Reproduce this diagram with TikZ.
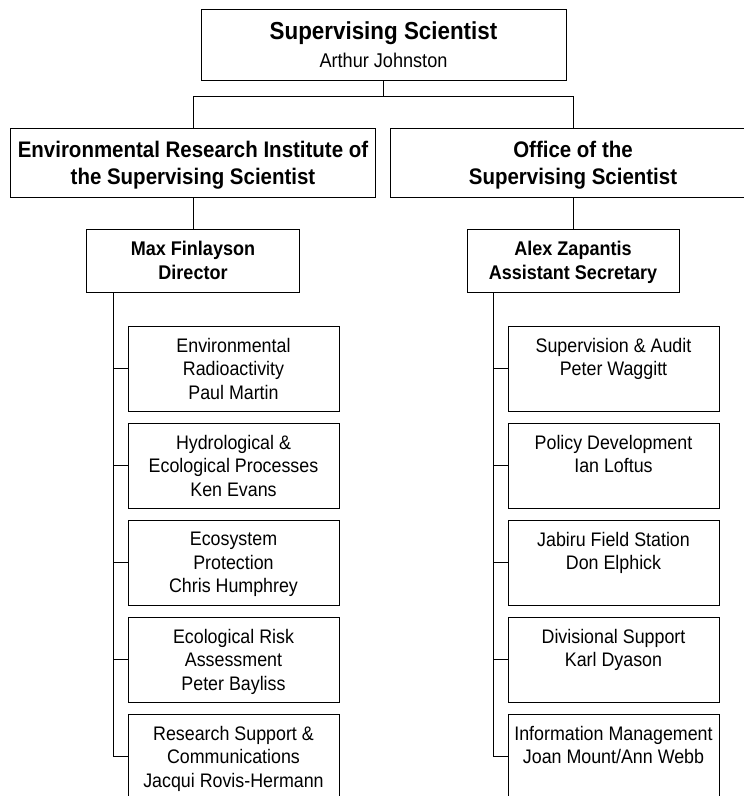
\documentclass[tikz,border=0pt]{standalone}
\usepackage{fontspec}
\setmainfont{Liberation Sans}[FakeStretch=0.91]
\newcommand{\lastln}[1]{\smash{#1}}
\tikzset{
  box/.style={draw, line width=1bp, align=center, inner sep=0pt, outer sep=0pt},
  conn/.style={line width=1bp},
  topbox/.style={box, minimum width=365bp, minimum height=70bp, font=\fontsize{24.6bp}{28bp}\selectfont\bfseries},
  divbox/.style={box, minimum height=69bp, font=\fontsize{22.5bp}{27bp}\selectfont\bfseries},
  headbox/.style={box, minimum width=212bp, minimum height=63bp, font=\fontsize{19.8bp}{24bp}\selectfont\bfseries},
  unitbox/.style={box, minimum width=211bp, minimum height=85bp, font=\fontsize{19.6bp}{23.5bp}\selectfont},
}
\begin{document}
\begin{tikzpicture}[x=1bp,y=-1bp]
\clip (0,0) rectangle (744,796);
% top
\node[topbox] (top) at (383.5,45) {Supervising Scientist\\\lastln{\fontsize{19.9bp}{28bp}\selectfont\mdseries Arthur Johnston}};
% divisions
\node[divbox, minimum width=364bp] (eriss) at (193,162.5) {Environmental Research Institute of\\\lastln{the Supervising Scientist}};
\node[divbox, minimum width=366bp] (oss) at (573,162.5) {Office of the\\\lastln{Supervising Scientist}};
% heads
\node[headbox] (dirL) at (193,260.5) {Max Finlayson\\\lastln{Director}};
\node[headbox] (dirR) at (573,260.5) {Alex Zapantis\\\lastln{Assistant Secretary}};
% left units
\node[unitbox] (l1) at (233.5,368.5) {Environmental\\Radioactivity\\\lastln{Paul Martin}};
\node[unitbox] (l2) at (233.5,465.5) {Hydrological \&\\Ecological Processes\\\lastln{Ken Evans}};
\node[unitbox] (l3) at (233.5,562.5) {Ecosystem\\Protection\\\lastln{Chris Humphrey}};
\node[unitbox] (l4) at (233.5,659.5) {Ecological Risk\\Assessment\\\lastln{Peter Bayliss}};
\node[unitbox] (l5) at (233.5,756.5) {Research Support \&\\Communications\\\lastln{Jacqui Rovis-Hermann}};
% right units
\node[unitbox] (r1) at (613.5,368.5) {Supervision \& Audit\\Peter Waggitt\\\lastln{\strut}};
\node[unitbox] (r2) at (613.5,465.5) {Policy Development\\Ian Loftus\\\lastln{\strut}};
\node[unitbox] (r3) at (613.5,562.5) {Jabiru Field Station\\Don Elphick\\\lastln{\strut}};
\node[unitbox] (r4) at (613.5,659.5) {Divisional Support\\Karl Dyason\\\lastln{\strut}};
\node[unitbox] (r5) at (613.5,756.5) {Information Management\\Joan Mount/Ann Webb\\\lastln{\strut}};
% connectors
\coordinate (bus) at (0,96.5);
\draw[conn] (top.south) -- (top.south |- bus) -| (eriss.north);
\draw[conn] (top.south |- bus) -| (oss.north);
\draw[conn] (eriss.south) -- (dirL.north);
\draw[conn] (oss.south) -- (dirR.north);
\coordinate (sL) at (113,0);
\coordinate (sR) at (493,0);
\draw[conn] (sL |- dirL.south) |- (l5.west);
\draw[conn] (sR |- dirR.south) |- (r5.west);
\foreach \i in {1,...,4} {
  \draw[conn] (sL |- l\i.west) -- (l\i.west);
  \draw[conn] (sR |- r\i.west) -- (r\i.west);
}
\end{tikzpicture}
\end{document}
